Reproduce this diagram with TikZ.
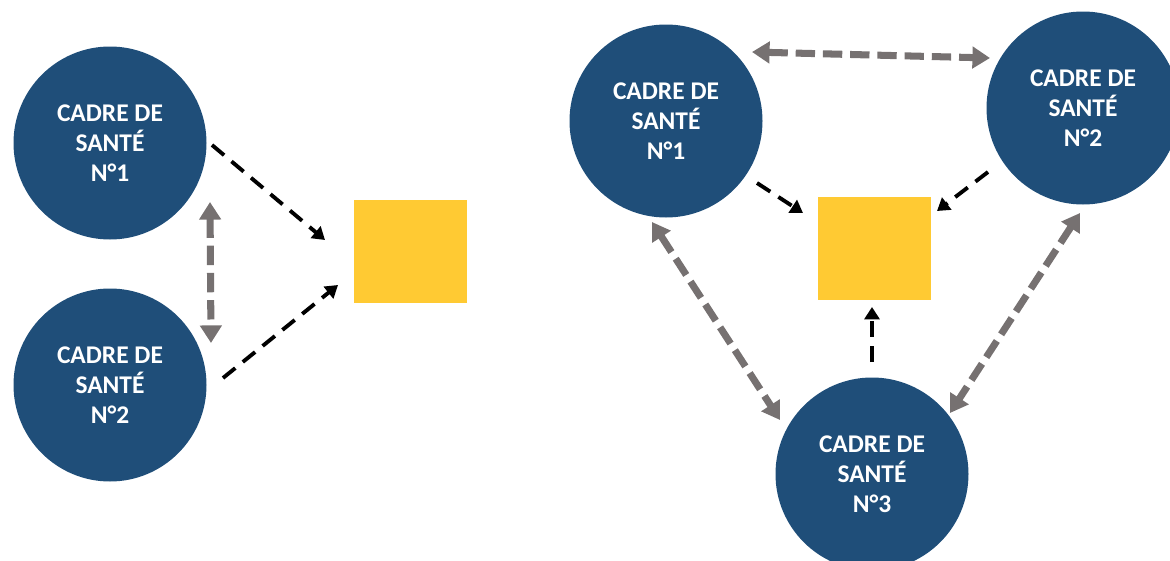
\documentclass[tikz,border=0pt]{standalone}
\usepackage{fontspec}
\setmainfont{Carlito}
\usetikzlibrary{arrows.meta}
\definecolor{cblue}{HTML}{1F4E79}
\definecolor{cyellow}{HTML}{FFCA33}
\definecolor{cgray}{HTML}{767171}
\tikzset{
  cadre/.style={circle, fill=cblue, minimum size=193*0.02cm, inner sep=0pt,
    text=white, font=\fontsize{14.5}{17}\selectfont\bfseries, align=center},
  goal/.style={fill=cyellow, minimum width=113*0.02cm, minimum height=103*0.02cm, inner sep=0pt},
  blk/.style={black, line width=2.2pt, dash pattern=on 9pt off 5.5pt,
    -{Triangle[length=7pt,width=8.5pt]}},
  gry/.style={cgray, line width=4pt, dash pattern=on 11pt off 4.5pt,
    {Triangle[length=10pt,width=12pt]}-{Triangle[length=10pt,width=12pt]}}
}
\begin{document}
\begin{tikzpicture}[x=0.02cm,y=-0.02cm]
\useasboundingbox (0,0) rectangle (1170,561);
% left
\node[cadre] (lc1) at (110,143) {CADRE DE\\SANTÉ\\N°1};
\node[cadre] (lc2) at (110,385) {CADRE DE\\SANTÉ\\N°2};
\node[goal] (lsq) at (410,251.5) {};
\draw[blk] ([shift={(102,2)}]lc1.center) -- ([shift={(-85,-11.5)}]lsq.center);
\draw[blk] ([shift={(113,-7)}]lc2.center) -- ([shift={(-72,33.5)}]lsq.center);
\draw[gry] ([shift={(100,59)}]lc1.center) -- ([shift={(101,-42)}]lc2.center);
% right
\node[cadre] (rc1) at (666,121) {CADRE DE\\SANTÉ\\N°1};
\node[cadre] (rc2) at (1083,108) {CADRE DE\\SANTÉ\\N°2};
\node[cadre] (rc3) at (872,474) {CADRE DE\\SANTÉ\\N°3};
\node[goal] (rsq) at (874,248) {};
\draw[gry] ([shift={(86,-69)}]rc1.center) -- ([shift={(-93,-50)}]rc2.center);
\draw[blk] ([shift={(91,62)}]rc1.center) -- ([shift={(-71,-35)}]rsq.center);
\draw[blk] ([shift={(-95,64)}]rc2.center) -- ([shift={(63,-37)}]rsq.center);
\draw[blk] ([shift={(0,-112)}]rc3.center) -- ([shift={(-2,59)}]rsq.center);
\draw[gry] ([shift={(-14,101)}]rc1.center) -- ([shift={(-92,-54)}]rc3.center);
\draw[gry] ([shift={(-3,105)}]rc2.center) -- ([shift={(78,-61)}]rc3.center);
\end{tikzpicture}
\end{document}
